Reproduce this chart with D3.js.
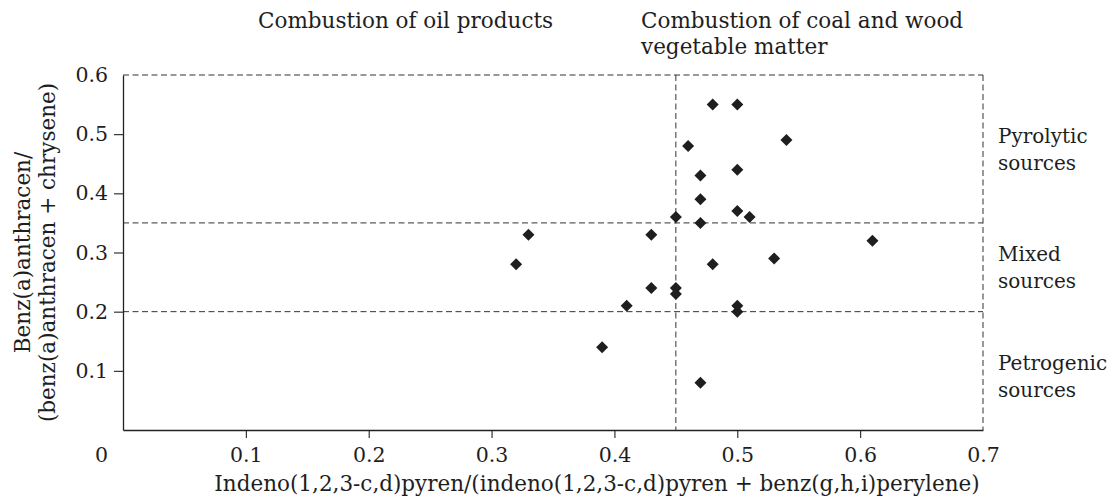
<!DOCTYPE html>
<html>
<head>
<meta charset="utf-8">
<script src="https://cdn.jsdelivr.net/npm/d3@7"></script>
<style>
    body { margin: 0; background: #fff; }
    text { font-family: "DejaVu Serif", serif; fill: #1e1e1e; }
</style>
</head>
<body>
<div id="chart"></div>
<script>
// ratio values
let ipRatio = [0.48, 0.50, 0.54, 0.46, 0.50, 0.47, 0.47, 0.50, 0.51, 0.45, 0.47, 0.33, 0.43,
    0.61, 0.53, 0.32, 0.48, 0.43, 0.45, 0.45, 0.41, 0.50, 0.50, 0.39, 0.47];
let baRatio = [0.55, 0.55, 0.49, 0.48, 0.44, 0.43, 0.39, 0.37, 0.36, 0.36, 0.35, 0.33, 0.33,
    0.32, 0.29, 0.28, 0.28, 0.24, 0.24, 0.23, 0.21, 0.21, 0.20, 0.14, 0.08];

let xTickValues = [0.1, 0.2, 0.3, 0.4, 0.5, 0.6, 0.7];
let yTickValues = [0.1, 0.2, 0.3, 0.4, 0.5, 0.6];
let xDomain = [0, 0.7];
let yDomain = [0, 0.6];

// threshold lines
let xSplit = 0.45;
let ySplits = [0.35, 0.2];

let sourceLabels = [
    {y: 0.475, lines: ["Pyrolytic", "sources"]},
    {y: 0.275, lines: ["Mixed", "sources"]},
    {y: 0.092, lines: ["Petrogenic", "sources"]}
];

let points = ipRatio.map((d, i) => ({x: d, y: baRatio[i]}));

let margin = {top: 75, right: 136, bottom: 71, left: 123};
let width = 1119 - margin.left - margin.right,
    height = 501 - margin.top - margin.bottom;

let svg = d3.select("#chart").append("svg")
    .attr("width", 1119)
    .attr("height", 501)
    .append("g")
    .attr("transform", "translate(" + margin.left + "," + margin.top + ")");

let x = d3.scaleLinear().domain(xDomain).range([0, width]);
let y = d3.scaleLinear().domain(yDomain).range([height, 0]);

let fontSize = 21.5;
let tickFont = 20.5;
let sideFont = 20;
let dash = "6,3.5";
let dashColor = "#333";

// dashed frame (top + right) and the split lines
svg.append("line")
    .attr("x1", x(0)).attr("x2", x(0.7))
    .attr("y1", y(0.6)).attr("y2", y(0.6))
    .attr("stroke", dashColor).attr("stroke-dasharray", dash);
svg.append("line")
    .attr("x1", x(0.7)).attr("x2", x(0.7))
    .attr("y1", y(0.6)).attr("y2", y(0))
    .attr("stroke", dashColor).attr("stroke-dasharray", dash);

svg.selectAll(".hsplit")
    .data(ySplits)
    .enter().append("line")
    .attr("class", "hsplit")
    .attr("x1", x(0)).attr("x2", x(0.7))
    .attr("y1", d => y(d)).attr("y2", d => y(d))
    .attr("stroke", dashColor).attr("stroke-dasharray", dash);

svg.append("line")
    .attr("x1", x(xSplit)).attr("x2", x(xSplit))
    .attr("y1", y(0.6)).attr("y2", y(0))
    .attr("stroke", dashColor).attr("stroke-dasharray", dash);

// axes
let xAxis = d3.axisBottom(x)
    .tickValues(xTickValues)
    .tickFormat(d3.format(".1f"))
    .tickSize(8)
    .tickSizeOuter(0)
    .tickPadding(9);

let yAxis = d3.axisLeft(y)
    .tickValues(yTickValues)
    .tickFormat(d3.format(".1f"))
    .tickSize(9)
    .tickSizeOuter(0)
    .tickPadding(6);

let gx = svg.append("g")
    .attr("class", "x-axis axis")
    .attr("transform", "translate(0," + height + ")")
    .call(xAxis);

let gy = svg.append("g")
    .attr("class", "y-axis axis")
    .call(yAxis);

[gx, gy].forEach(g => {
    g.select(".domain").attr("stroke", "#222").attr("stroke-width", 1.3);
    g.selectAll(".tick line").attr("stroke", "#222").attr("stroke-width", 1.1);
    g.selectAll(".tick text")
        .style("font-family", "DejaVu Serif, serif")
        .style("font-size", tickFont + "px")
        .attr("fill", "#1e1e1e");
});

// no tick marks at the far ends
gx.selectAll(".tick").filter(d => d === 0.7).select("line").remove();
gy.selectAll(".tick").filter(d => d === 0.6).select("line").remove();

// shared origin label
svg.append("text")
    .attr("x", -15)
    .attr("y", height + 32)
    .attr("text-anchor", "end")
    .style("font-size", tickFont + "px")
    .text("0");

// points
svg.selectAll(".pt")
    .data(points)
    .enter().append("path")
    .attr("class", "pt")
    .attr("d", d3.symbol().type(d3.symbolSquare).size(72))
    .attr("transform", d => "translate(" + x(d.x) + "," + y(d.y) + ") rotate(45)")
    .attr("fill", "#1e1e1e");

// axis titles
svg.append("text")
    .attr("x", 474)
    .attr("y", height + 61)
    .attr("text-anchor", "middle")
    .style("font-size", fontSize + "px")
    .text("Indeno(1,2,3-c,d)pyren/(indeno(1,2,3-c,d)pyren + benz(g,h,i)perylene)");

let yTitle = svg.append("text")
    .attr("transform", "translate(-93," + (height / 2) + ") rotate(-90)")
    .attr("text-anchor", "middle")
    .style("font-size", fontSize + "px");
yTitle.append("tspan").attr("x", 0).attr("dy", 0).text("Benz(a)anthracen/");
yTitle.append("tspan").attr("x", 0).attr("dy", 25).text("(benz(a)anthracen + chrysene)");

// region labels on top
svg.append("text")
    .attr("x", 135)
    .attr("y", -47)
    .style("font-size", fontSize + "px")
    .text("Combustion of oil products");

let coalText = svg.append("text")
    .attr("y", -47)
    .style("font-size", fontSize + "px");
coalText.append("tspan").attr("x", 518).text("Combustion of coal and wood");
coalText.append("tspan").attr("x", 518).attr("dy", 26).text("vegetable matter");

// source labels on the right
sourceLabels.forEach(s => {
    let t = svg.append("text")
        .attr("y", y(s.y) - 6)
        .style("font-size", sideFont + "px");
    s.lines.forEach((line, i) => {
        t.append("tspan")
            .attr("x", width + 15)
            .attr("dy", i === 0 ? 0 : 27)
            .text(line);
    });
});
</script>
</body>
</html>
